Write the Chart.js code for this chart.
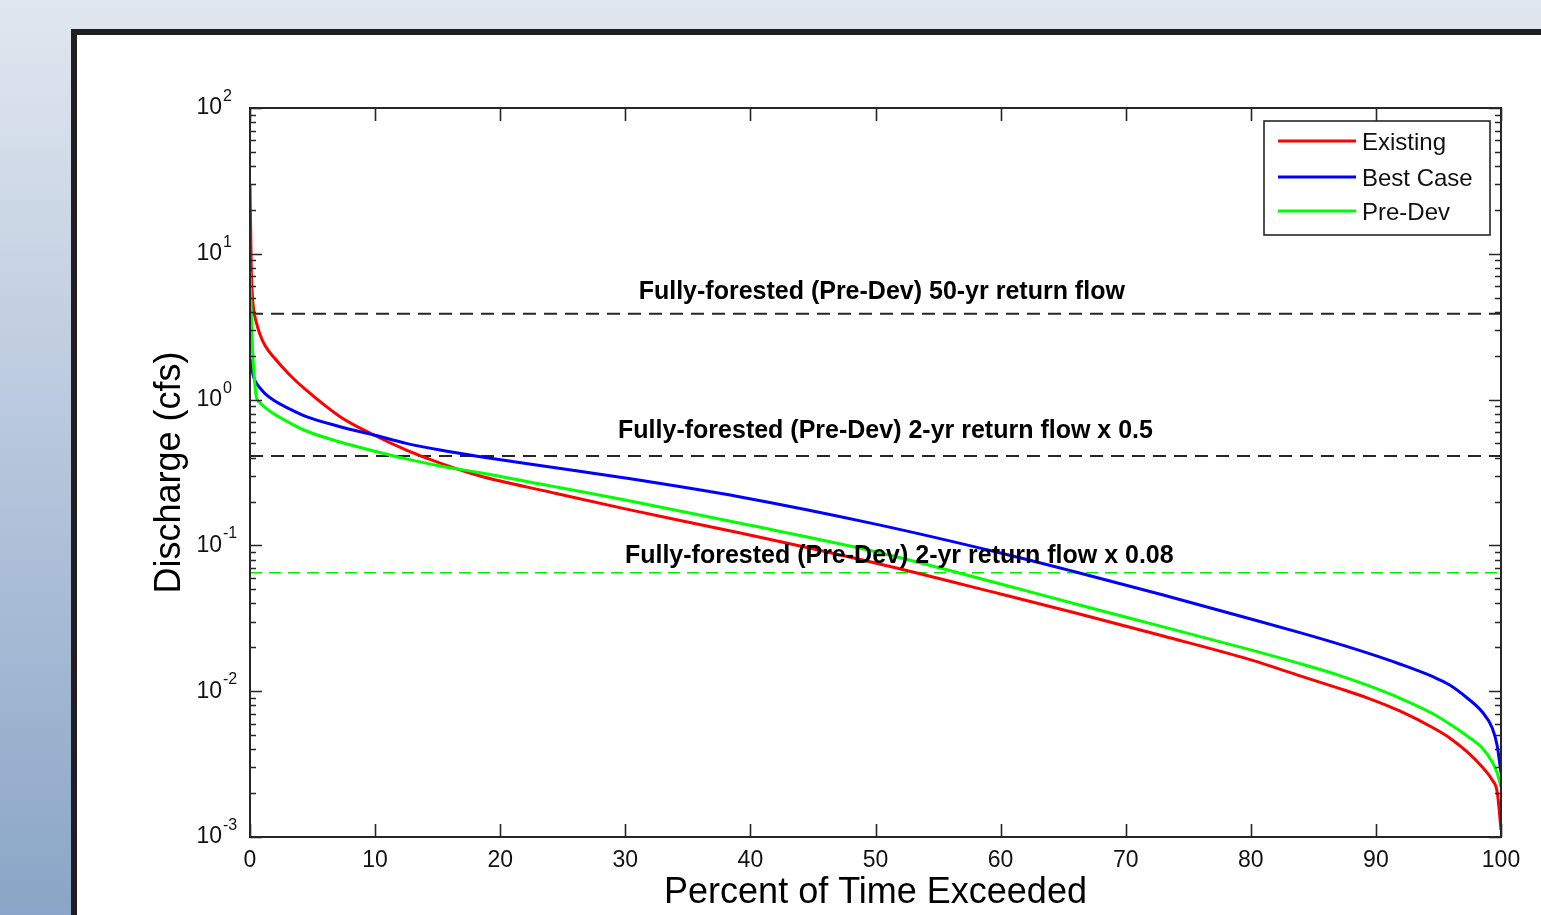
<!DOCTYPE html>
<html><head><meta charset="utf-8">
<script src="https://cdn.jsdelivr.net/npm/chart.js@4.4.1/dist/chart.umd.min.js"></script>
<style>
html,body{margin:0;padding:0;width:1541px;height:915px;overflow:hidden;}
body{background:linear-gradient(to bottom,#e1e7f0 0%,#8aa5c7 100%);position:relative;}
#panel{position:absolute;left:71px;top:29px;width:1600px;height:1000px;background:#fff;border:6px solid #231f20;box-sizing:border-box;}
#c{position:absolute;left:0;top:0;}
</style></head><body>
<div id="panel"></div>
<canvas id="c" width="1541" height="915"></canvas>
<script>
// ---- data ----
const pct       = [0, 0.1, 0.2, 0.3, 0.5, 0.8, 1.2, 1.9, 3.2, 4.5, 7.2, 9.9, 12.5, 15.2, 18.4, 24, 30, 39.2, 50, 60, 66, 73, 80, 84, 87, 89.3, 91.9, 94.6, 95.9, 97.3, 98.5, 99.3, 99.7, 100];
const existing  = [30, 8.0, 5.0, 4.1, 3.4, 2.8, 2.35, 1.95, 1.47, 1.16, 0.764, 0.572, 0.451, 0.367, 0.299, 0.232, 0.178, 0.1216, 0.0757, 0.0464, 0.0344, 0.0239, 0.0164, 0.0127, 0.0105, 0.0090, 0.00732, 0.00559, 0.00478, 0.00383, 0.00302, 0.00246, 0.00203, 0.00112];
const bestCase  = [1.9, 1.75, 1.55, 1.42, 1.3, 1.2, 1.1, 0.99, 0.86, 0.764, 0.652, 0.572, 0.501, 0.451, 0.406, 0.345, 0.290, 0.215, 0.140, 0.0887, 0.0657, 0.0457, 0.0313, 0.0251, 0.0211, 0.0183, 0.01537, 0.01252, 0.01103, 0.00898, 0.00720, 0.00559, 0.00421, 0.00275];
const preDev    = [7.5, 4.0, 2.2, 1.6, 1.05, 0.95, 0.885, 0.80, 0.691, 0.609, 0.512, 0.444, 0.392, 0.350, 0.315, 0.256, 0.205, 0.1418, 0.0905, 0.0544, 0.0396, 0.0276, 0.0192, 0.0154, 0.0129, 0.0110, 0.00898, 0.00698, 0.00596, 0.00493, 0.00408, 0.00327, 0.00275, 0.00220];
const seriesNames = ['Existing', 'Best Case', 'Pre-Dev'];
const thresholdValues = [3.88, 0.41, 0.065];
const thresholdLabels = [
  'Fully-forested (Pre-Dev) 50-yr return flow',
  'Fully-forested (Pre-Dev) 2-yr return flow x 0.5',
  'Fully-forested (Pre-Dev) 2-yr return flow x 0.08'
];
const xTicks = [0, 10, 20, 30, 40, 50, 60, 70, 80, 90, 100];
const yDecades = [-3, -2, -1, 0, 1, 2];

// ---- styling / layout ----
const FONT = "'Liberation Sans', Arial, Helvetica, sans-serif";
Chart.defaults.font.family = FONT;
const seriesColors = ['#ff0000', '#0000ff', '#00ff00'];
const thresholdStyle = [
  {color:'#262626', width:2, dash:[13,8]},
  {color:'#262626', width:2, dash:[13,8]},
  {color:'#00ee00', width:1.5, dash:[12,7]}
];
const annot = [
  {cx:50.5, dy:15},
  {cx:50.8, dy:18},
  {cx:51.9, dy:10}
];

const toXY = arr => pct.map((p,i)=>({x:p, y:arr[i]}));
const seriesData = [existing, bestCase, preDev];

const datasets = [];
seriesData.forEach((arr,i)=>{
  datasets.push({
    label: seriesNames[i], data: toXY(arr), borderColor: seriesColors[i], backgroundColor: seriesColors[i],
    borderWidth: 3, pointRadius: 0, cubicInterpolationMode: 'monotone', order: 3 - i, isSeries: true
  });
});
thresholdValues.forEach((v,i)=>{
  datasets.push({
    label: thresholdLabels[i], data: [{x:0,y:v},{x:100,y:v}], borderColor: thresholdStyle[i].color,
    borderWidth: thresholdStyle[i].width, borderDash: thresholdStyle[i].dash, pointRadius: 0, order: 10 + i
  });
});

const framePlugin = {
  id: 'frame',
  afterDatasetsDraw(chart) {
    const {ctx, scales: {x, y}} = chart;
    ctx.save();
    ctx.fillStyle = '#000';
    ctx.font = "bold 25px " + FONT;
    ctx.textAlign = 'center';
    ctx.textBaseline = 'alphabetic';
    thresholdLabels.forEach((t,i)=>{
      ctx.fillText(t, x.getPixelForValue(annot[i].cx), y.getPixelForValue(thresholdValues[i]) - annot[i].dy);
    });
    ctx.restore();
  },
  afterDraw(chart) {
    const {ctx, chartArea: a, scales: {x, y}} = chart;
    ctx.save();
    // exponents of the y tick labels
    ctx.fillStyle = '#111';
    ctx.font = "16px " + FONT;
    ctx.textAlign = 'left';
    ctx.textBaseline = 'alphabetic';
    yDecades.forEach(e=>{
      ctx.fillText(String(e), a.left - 27, y.getPixelForValue(Math.pow(10, e)) - 7);
    });

    ctx.strokeStyle = '#262626';
    ctx.lineWidth = 1.6;
    ctx.beginPath();
    xTicks.forEach(v=>{
      const px = Math.round(x.getPixelForValue(v)) + 0.5;
      ctx.moveTo(px, a.bottom); ctx.lineTo(px, a.bottom - 13);
      ctx.moveTo(px, a.top); ctx.lineTo(px, a.top + 13);
    });
    for (let e = -3; e <= 2; e++) {
      for (let m = 1; m <= 9; m++) {
        const v = m * Math.pow(10, e);
        if (v > 100.0001) break;
        const py = Math.round(y.getPixelForValue(v)) + 0.5;
        const len = m === 1 ? 12 : 6;
        ctx.moveTo(a.left, py); ctx.lineTo(a.left + len, py);
        ctx.moveTo(a.right, py); ctx.lineTo(a.right - len, py);
      }
    }
    ctx.stroke();
    ctx.lineWidth = 2;
    ctx.strokeRect(a.left, a.top, a.right - a.left, a.bottom - a.top);

    // legend
    const bx = a.right - 237, by = a.top + 13, bw = 226, bh = 114;
    ctx.fillStyle = '#fff';
    ctx.fillRect(bx, by, bw, bh);
    ctx.lineWidth = 1.6;
    ctx.strokeStyle = '#262626';
    ctx.strokeRect(bx, by, bw, bh);
    const rows = [20, 56, 90];
    ctx.font = "24px " + FONT;
    ctx.textAlign = 'left';
    ctx.textBaseline = 'middle';
    chart.data.datasets.filter(d=>d.isSeries).forEach((d,i)=>{
      const ry = by + rows[i];
      ctx.strokeStyle = d.borderColor;
      ctx.lineWidth = 3;
      ctx.beginPath(); ctx.moveTo(bx + 14, ry); ctx.lineTo(bx + 92, ry); ctx.stroke();
      ctx.fillStyle = '#111';
      ctx.fillText(d.label, bx + 98, ry + 2);
    });
    ctx.restore();
  }
};

new Chart(document.getElementById('c'), {
  type: 'line',
  data: { datasets },
  options: {
    responsive: false,
    animation: false,
    devicePixelRatio: 1,
    layout: { padding: { left: 148, top: 108, right: 40, bottom: 0 } },
    plugins: { legend: { display: false }, tooltip: { enabled: false } },
    scales: {
      x: {
        type: 'linear', min: 0, max: 100,
        afterFit: s => { s.height = 78; },
        afterBuildTicks: s => { s.ticks = xTicks.map(v=>({value:v})); },
        grid: { display: false, drawTicks: false },
        border: { display: false },
        ticks: { color: '#111', font: { size: 23 }, padding: 10, autoSkip: false, maxRotation: 0 },
        title: { display: true, text: 'Percent of Time Exceeded', color: '#000', font: { size: 36 }, padding: { top: 0, bottom: 0 } }
      },
      y: {
        type: 'logarithmic', min: 0.001, max: 100,
        afterFit: s => { s.width = 102; },
        afterBuildTicks: s => { s.ticks = yDecades.map(e=>({value:Math.pow(10, e)})); },
        grid: { display: false, drawTicks: false },
        border: { display: false },
        ticks: { color: '#111', font: { size: 23 }, padding: 28, autoSkip: false, callback: () => '10' },
        title: { display: true, text: 'Discharge (cfs)', color: '#000', font: { size: 36 }, padding: { top: 0, bottom: 0 } }
      }
    }
  },
  plugins: [framePlugin]
});
</script>
</body></html>
